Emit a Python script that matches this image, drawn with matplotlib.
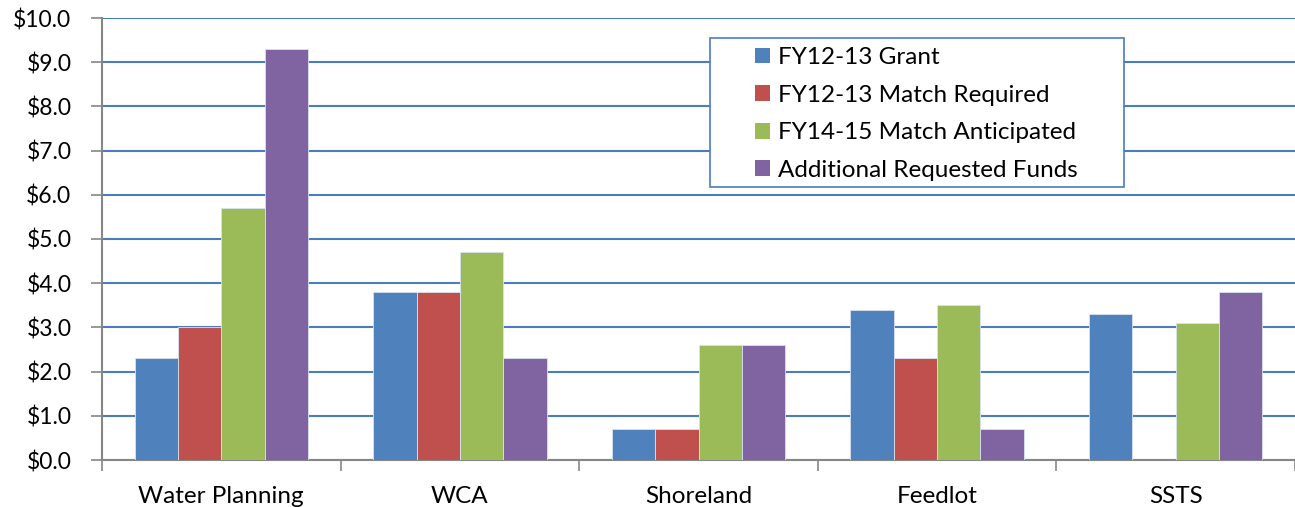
import matplotlib.pyplot as plt
import matplotlib.patches as mpatches
import numpy as np

# данные
categories = ['Water Planning', 'WCA', 'Shoreland', 'Feedlot', 'SSTS']
series_names = ['FY12-13 Grant', 'FY12-13 Match Required',
                'FY14-15 Match Anticipated', 'Additional Requested Funds']
grant = [2.3, 3.8, 0.7, 3.4, 3.3]
match_required = [3.0, 3.8, 0.7, 2.3, 0.0]
match_anticipated = [5.7, 4.7, 2.6, 3.5, 3.1]
additional = [9.3, 2.3, 2.6, 0.7, 3.8]

colors = ['#4f81bd', '#c0504d', '#9bbb59', '#8064a2']
grid_color = '#4a7ebb'
axis_color = '#868686'

plt.rcParams['font.family'] = ['Lato', 'DejaVu Sans']

fig = plt.figure(figsize=(12.95, 5.07), dpi=100)
ax = fig.add_axes([102 / 1295, 1 - 460 / 507, 1 - 102 / 1295, 442 / 507])

x = np.arange(len(categories))
n = 4
bar_w = 1 / (n + 1.5)
all_values = [grant, match_required, match_anticipated, additional]
for i, (vals, name, c) in enumerate(zip(all_values, series_names, colors)):
    ax.bar(x + (i - (n - 1) / 2) * bar_w, vals, bar_w, color=c, label=name,
           edgecolor='#d9e2f0', linewidth=0.6, zorder=3)

ax.set_xlim(-0.5, len(categories) - 0.5)
ax.set_ylim(0, 10)
ax.set_yticks(np.arange(0, 10.01, 1))
ax.set_yticklabels(['${:.1f}'.format(v) for v in np.arange(0, 10.01, 1)])
ax.yaxis.grid(True, color=grid_color, linewidth=1.5, zorder=0)
ax.set_axisbelow(True)

# деления между категориями
ax.set_xticks(np.arange(-0.5, len(categories)), minor=False)
ax.set_xticklabels([])
ax.set_xticks(x, minor=True)
ax.set_xticklabels(categories, minor=True)
ax.tick_params(axis='x', which='major', length=8, width=1.2, color=axis_color, direction='out')
ax.tick_params(axis='x', which='minor', length=0, pad=19, labelsize=17.5)
ax.tick_params(axis='y', length=8, width=1.2, color=axis_color, labelsize=16.5, pad=14)

for s in ['top', 'right']:
    ax.spines[s].set_visible(False)
for s in ['left', 'bottom']:
    ax.spines[s].set_color(axis_color)
    ax.spines[s].set_linewidth(1.5)

# рамка легенды
frame = mpatches.Rectangle((0.5097, 0.618), 0.347, 0.337, transform=ax.transAxes,
                           facecolor='white', edgecolor=grid_color, linewidth=1.2,
                           zorder=4)
ax.add_patch(frame)

leg = ax.legend(loc='upper left', bbox_to_anchor=(0.5474, 0.934), fontsize=17.5,
                frameon=False, handlelength=0.62, handleheight=0.62,
                handletextpad=0.33, labelspacing=0.68, borderpad=0,
                borderaxespad=0)
leg.set_zorder(5)
for h in leg.legend_handles:
    h.set_edgecolor('none')

fig.savefig('out.png', dpi=100)
